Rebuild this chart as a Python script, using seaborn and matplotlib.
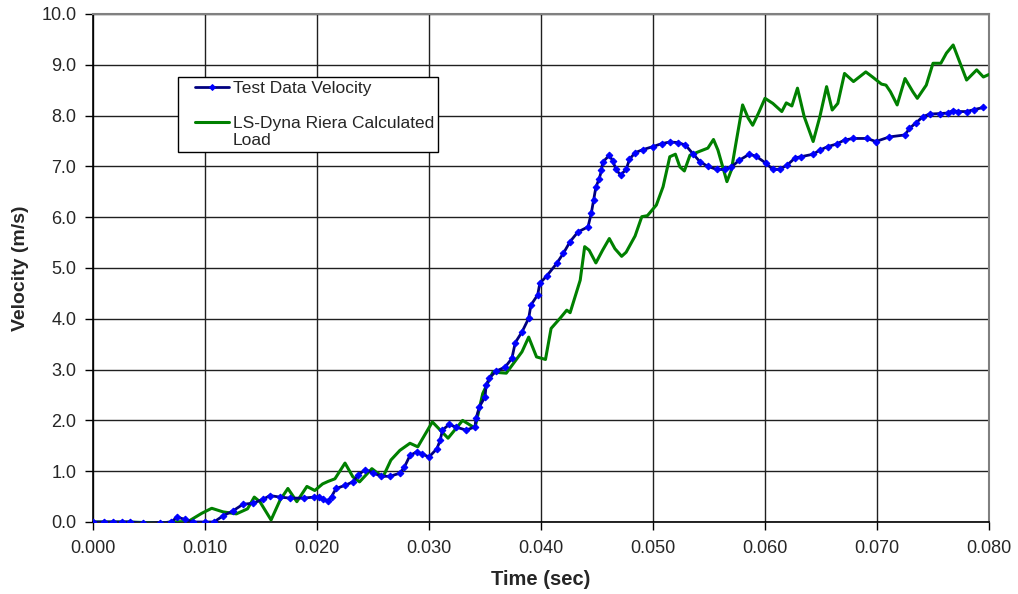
import matplotlib
matplotlib.use("Agg")
import matplotlib.pyplot as plt
from matplotlib.legend_handler import HandlerLine2D
import numpy as np
import seaborn as sns
import pandas as pd

# Test data velocity (time in s, velocity in m/s)
test_time = [0.0000, 0.0010, 0.0018, 0.0026, 0.0033, 0.0045, 0.0060, 0.0070, 0.0075, 0.0082,
             0.0089, 0.0100, 0.0108, 0.0116, 0.0125, 0.0134, 0.0143, 0.0152, 0.0158, 0.0167,
             0.0176, 0.0188, 0.0197, 0.0202, 0.0205, 0.0210, 0.0213, 0.0217, 0.0225, 0.0232,
             0.0237, 0.0243, 0.0250, 0.0257, 0.0265, 0.0274, 0.0278, 0.0283, 0.0289, 0.0294,
             0.0300, 0.0307, 0.0310, 0.0312, 0.0318, 0.0324, 0.0333, 0.0341, 0.0342, 0.0345,
             0.0350, 0.0351, 0.0354, 0.0360, 0.0368, 0.0374, 0.0377, 0.0383, 0.0389, 0.0391,
             0.0397, 0.0399, 0.0405, 0.0414, 0.0420, 0.0426, 0.0433, 0.0442, 0.0445, 0.0447,
             0.0449, 0.0452, 0.0454, 0.0455, 0.0461, 0.0464, 0.0467, 0.0471, 0.0476, 0.0479,
             0.0484, 0.0491, 0.0500, 0.0508, 0.0515, 0.0522, 0.0529, 0.0536, 0.0542, 0.0549,
             0.0557, 0.0564, 0.0570, 0.0577, 0.0586, 0.0592, 0.0601, 0.0607, 0.0613, 0.0620,
             0.0627, 0.0632, 0.0643, 0.0649, 0.0656, 0.0664, 0.0671, 0.0679, 0.0691, 0.0699,
             0.0711, 0.0725, 0.0729, 0.0735, 0.0741, 0.0747, 0.0756, 0.0763, 0.0768, 0.0772,
             0.0780, 0.0787, 0.0795]
test_velocity = [0.00, 0.00, 0.00, 0.00, 0.00, -0.02, -0.02, 0.00, 0.10, 0.05,
                 0.00, 0.00, 0.00, 0.12, 0.22, 0.35, 0.37, 0.45, 0.52, 0.49,
                 0.47, 0.47, 0.49, 0.50, 0.45, 0.41, 0.50, 0.66, 0.72, 0.79,
                 0.93, 1.03, 0.97, 0.90, 0.90, 0.96, 1.08, 1.31, 1.38, 1.34,
                 1.28, 1.44, 1.61, 1.81, 1.92, 1.87, 1.81, 1.87, 2.04, 2.27,
                 2.46, 2.69, 2.84, 2.97, 3.05, 3.22, 3.53, 3.74, 4.01, 4.27,
                 4.47, 4.70, 4.84, 5.09, 5.29, 5.52, 5.71, 5.81, 6.09, 6.34,
                 6.59, 6.76, 6.92, 7.08, 7.22, 7.11, 6.94, 6.83, 6.94, 7.14,
                 7.27, 7.33, 7.39, 7.45, 7.48, 7.47, 7.42, 7.24, 7.09, 7.00,
                 6.94, 6.94, 6.99, 7.12, 7.24, 7.20, 7.06, 6.94, 6.94, 7.03,
                 7.17, 7.19, 7.24, 7.32, 7.39, 7.44, 7.52, 7.55, 7.55, 7.49,
                 7.58, 7.62, 7.75, 7.86, 7.98, 8.03, 8.04, 8.05, 8.10, 8.08,
                 8.08, 8.12, 8.16]

# LS-Dyna Riera calculated load
calc_time = [0.0000, 0.0033, 0.0045, 0.0057, 0.0070, 0.0085, 0.0097, 0.0106, 0.0116, 0.0128,
             0.0138, 0.0144, 0.0149, 0.0159, 0.0167, 0.0174, 0.0182, 0.0191, 0.0198, 0.0205,
             0.0210, 0.0216, 0.0225, 0.0232, 0.0238, 0.0249, 0.0253, 0.0259, 0.0266, 0.0274,
             0.0283, 0.0290, 0.0303, 0.0317, 0.0330, 0.0341, 0.0348, 0.0357, 0.0369, 0.0383,
             0.0389, 0.0396, 0.0404, 0.0409, 0.0417, 0.0423, 0.0426, 0.0435, 0.0439, 0.0443,
             0.0449, 0.0455, 0.0461, 0.0466, 0.0472, 0.0476, 0.0484, 0.0490, 0.0495, 0.0503,
             0.0509, 0.0515, 0.0520, 0.0524, 0.0528, 0.0533, 0.0542, 0.0549, 0.0554, 0.0558,
             0.0566, 0.0570, 0.0574, 0.0580, 0.0585, 0.0589, 0.0594, 0.0600, 0.0607, 0.0615,
             0.0619, 0.0624, 0.0629, 0.0635, 0.0643, 0.0649, 0.0655, 0.0660, 0.0665, 0.0671,
             0.0679, 0.0690, 0.0696, 0.0704, 0.0708, 0.0712, 0.0718, 0.0725, 0.0732, 0.0736,
             0.0744, 0.0750, 0.0757, 0.0762, 0.0768, 0.0772, 0.0780, 0.0789, 0.0795, 0.0800]
calc_velocity = [0.00, 0.00, -0.01, -0.03, 0.00, 0.01, 0.17, 0.27, 0.20, 0.16,
                 0.26, 0.49, 0.40, 0.04, 0.43, 0.66, 0.40, 0.70, 0.62, 0.75,
                 0.80, 0.85, 1.16, 0.89, 0.79, 1.05, 0.98, 0.89, 1.22, 1.41,
                 1.55, 1.48, 1.97, 1.65, 2.00, 1.85, 2.53, 2.95, 2.93, 3.35,
                 3.64, 3.25, 3.20, 3.81, 4.01, 4.17, 4.12, 4.76, 5.42, 5.35,
                 5.10, 5.35, 5.58, 5.38, 5.23, 5.31, 5.63, 6.01, 6.03, 6.24,
                 6.60, 7.19, 7.24, 6.99, 6.91, 7.22, 7.30, 7.36, 7.53, 7.32,
                 6.70, 6.93, 7.45, 8.21, 7.95, 7.81, 8.04, 8.34, 8.24, 8.08,
                 8.25, 8.19, 8.54, 7.98, 7.49, 7.98, 8.57, 8.11, 8.24, 8.83,
                 8.67, 8.86, 8.76, 8.62, 8.60, 8.47, 8.21, 8.73, 8.47, 8.34,
                 8.60, 9.03, 9.03, 9.23, 9.39, 9.16, 8.70, 8.90, 8.76, 8.81]

x_ticks = [0.000, 0.010, 0.020, 0.030, 0.040, 0.050, 0.060, 0.070, 0.080]
y_ticks = [0.0, 1.0, 2.0, 3.0, 4.0, 5.0, 6.0, 7.0, 8.0, 9.0, 10.0]

sns.set_style("white")
plt.rcParams["font.family"] = ["Liberation Sans", "DejaVu Sans"]

df_test = pd.DataFrame({"t": test_time, "v": test_velocity})
df_calc = pd.DataFrame({"t": calc_time, "v": calc_velocity})

fig = plt.figure(figsize=(10.18, 5.94), dpi=100)
ax = fig.add_axes([93 / 1018, 1 - 522 / 594, 896 / 1018, 508 / 594])

sns.lineplot(data=df_test, x="t", y="v", ax=ax, color="#000080", linewidth=2.0,
             marker="D", markersize=3.4, markerfacecolor="#0000FF",
             markeredgecolor="#0000FF", label="Test Data Velocity",
             estimator=None, sort=False, zorder=4)
sns.lineplot(data=df_calc, x="t", y="v", ax=ax, color="#008000", linewidth=2.2,
             label="LS-Dyna Riera Calculated\nLoad", estimator=None, sort=False, zorder=3)
for ln in ax.get_lines():
    ln.set_solid_joinstyle("round")

ax.set_xlim(0, 0.080)
ax.set_ylim(0, 10.0)
ax.set_xticks(x_ticks)
ax.set_xticklabels([f"{v:.3f}" for v in x_ticks])
ax.set_yticks(y_ticks)
ax.set_yticklabels([f"{v:.1f}" for v in y_ticks])
ax.tick_params(axis="both", direction="out", length=6, width=1, color="#000000",
               labelsize=13, bottom=True, left=True)
ax.tick_params(axis="x", pad=7)
ax.tick_params(axis="y", pad=6)

ax.grid(True, color="#202020", linewidth=1.0)
ax.set_axisbelow(True)

for side in ["left", "bottom"]:
    ax.spines[side].set_color("#000000")
    ax.spines[side].set_linewidth(1.2)
for side in ["top", "right"]:
    ax.spines[side].set_color("#808080")
    ax.spines[side].set_linewidth(1.5)

ax.set_xlabel("Time (sec)", fontsize=14.5, fontweight="bold", labelpad=9)
ax.set_ylabel("Velocity (m/s)", fontsize=14, fontweight="bold", labelpad=9)


class ShiftedLineHandler(HandlerLine2D):
    def __init__(self, dy=0.0, **kw):
        super().__init__(**kw)
        self.dy = dy

    def create_artists(self, legend, orig_handle, xdescent, ydescent, width,
                       height, fontsize, trans):
        artists = super().create_artists(legend, orig_handle, xdescent, ydescent,
                                         width, height, fontsize, trans)
        for a in artists:
            a.set_ydata(np.asarray(a.get_ydata(), dtype=float) + self.dy * fontsize)
        return artists


handles, labels = ax.get_legend_handles_labels()
hmap = {handles[0]: ShiftedLineHandler(dy=0.0, xpad=0.75),
        handles[1]: ShiftedLineHandler(dy=0.55, xpad=0.75)}
leg = ax.legend(handles, labels, loc="upper left",
                bbox_to_anchor=((178 - 93) / 896, (522 - 77) / 508),
                borderaxespad=0, fontsize=12.5, frameon=True, fancybox=False,
                edgecolor="#000000", framealpha=1, handlelength=2.7,
                handletextpad=0.2, labelspacing=1.1, borderpad=0.25,
                handler_map=hmap)
leg.get_frame().set_linewidth(1.0)
for h in leg.legend_handles:
    h.set_markersize(3)

fig.savefig("out.png", dpi=100)
